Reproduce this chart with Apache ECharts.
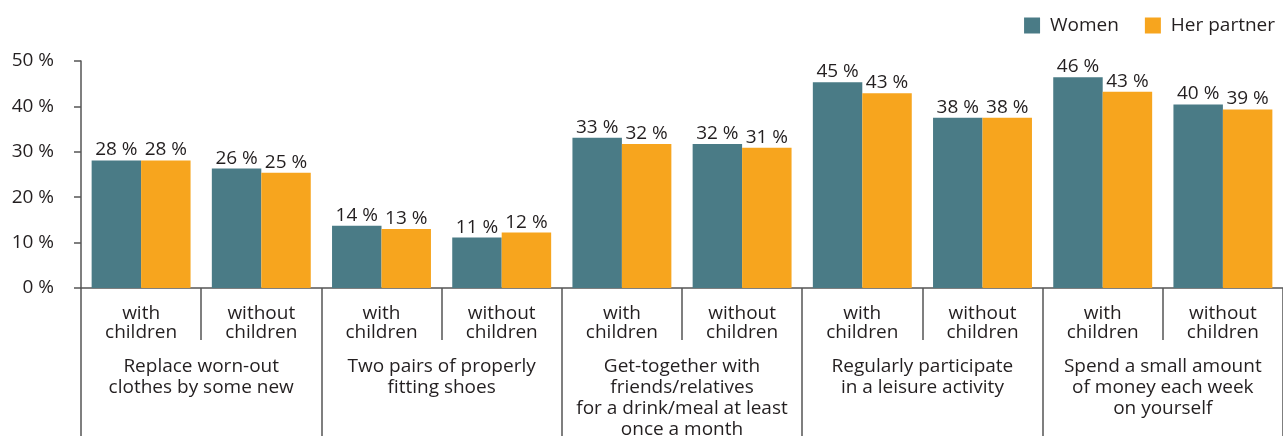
<!DOCTYPE html>
<html>
<head>
<meta charset="utf-8">
<script src="https://cdn.jsdelivr.net/npm/echarts@6/dist/echarts.min.js"></script>
<style>html,body{margin:0;padding:0;background:#fff}#c{width:1283px;height:436px}</style>
</head>
<body>
<div id="c"></div>
<script>
const subCategories = ['with\nchildren','without\nchildren','with\nchildren','without\nchildren','with\nchildren','without\nchildren','with\nchildren','without\nchildren','with\nchildren','without\nchildren'];
const groups = ['Replace worn-out\nclothes by some new','Two pairs of properly\nfitting shoes','Get-together with\nfriends/relatives\nfor a drink/meal at least\nonce a month','Regularly participate\nin a leisure activity','Spend a small amount\nof money each week\non yourself'];
const women = [28.1, 26.3, 13.7, 11.1, 33.1, 31.7, 45.3, 37.5, 46.4, 40.4];
const partner = [28.1, 25.4, 13.0, 12.2, 31.7, 30.9, 42.9, 37.5, 43.2, 39.3];
const yTicks = [0, 10, 20, 30, 40, 50];

const FONT = 'Open Sans';
const TXT = '#231f20';
const FS = 19;
const chart = echarts.init(document.getElementById('c'));
const labelCfg = {
  show: true, position: 'top', distance: 1,
  fontFamily: FONT, fontSize: FS, color: TXT,
  formatter: p => Math.round(p.value) + ' %'
};
chart.setOption({
  animation: false,
  textStyle: {fontFamily: FONT},
  legend: {
    right: 3, top: 11, itemWidth: 16, itemHeight: 16, itemGap: 26,
    textStyle: {fontFamily: FONT, fontSize: FS, color: TXT},
    formatter: name => ' ' + name,
    data: [{name: 'Women', icon: 'rect'}, {name: 'Her partner', icon: 'rect'}]
  },
  grid: {left: 81, right: 0, top: 61, bottom: 148, containLabel: false, outerBoundsMode: 'none'},
  xAxis: [{
    type: 'category', data: subCategories, position: 'bottom',
    axisLine: {show: true, lineStyle: {color: '#555', width: 1.5}},
    axisTick: {show: true, length: 52, lineStyle: {color: '#555', width: 1.5}},
    axisLabel: {fontFamily: FONT, fontSize: FS, color: TXT, lineHeight: 19, margin: 16, interval: 0}
  }, {
    type: 'category', data: groups, position: 'bottom',
    axisLine: {show: false},
    axisTick: {show: true, length: 150, lineStyle: {color: '#555', width: 1.5}},
    axisLabel: {fontFamily: FONT, fontSize: FS, color: TXT, lineHeight: 21, margin: 68, interval: 0, verticalAlign: 'top'}
  }],
  yAxis: {
    type: 'value', min: yTicks[0], max: yTicks[yTicks.length - 1], interval: 10,
    axisLine: {show: true, lineStyle: {color: '#555', width: 1.5}},
    axisTick: {show: true, length: 7, lineStyle: {color: '#555', width: 1.5}},
    splitLine: {show: false},
    axisLabel: {fontFamily: FONT, fontSize: FS, color: TXT, margin: 27, formatter: '{value} %'}
  },
  series: [{
    name: 'Women', type: 'bar', data: women, xAxisIndex: 0,
    barGap: '0%', barCategoryGap: '17.7%',
    itemStyle: {color: '#4a7b86'}, label: labelCfg
  }, {
    name: 'Her partner', type: 'bar', data: partner, xAxisIndex: 0,
    barGap: '0%', barCategoryGap: '17.7%',
    itemStyle: {color: '#f7a51e'}, label: labelCfg
  }]
});
</script>
</body>
</html>
